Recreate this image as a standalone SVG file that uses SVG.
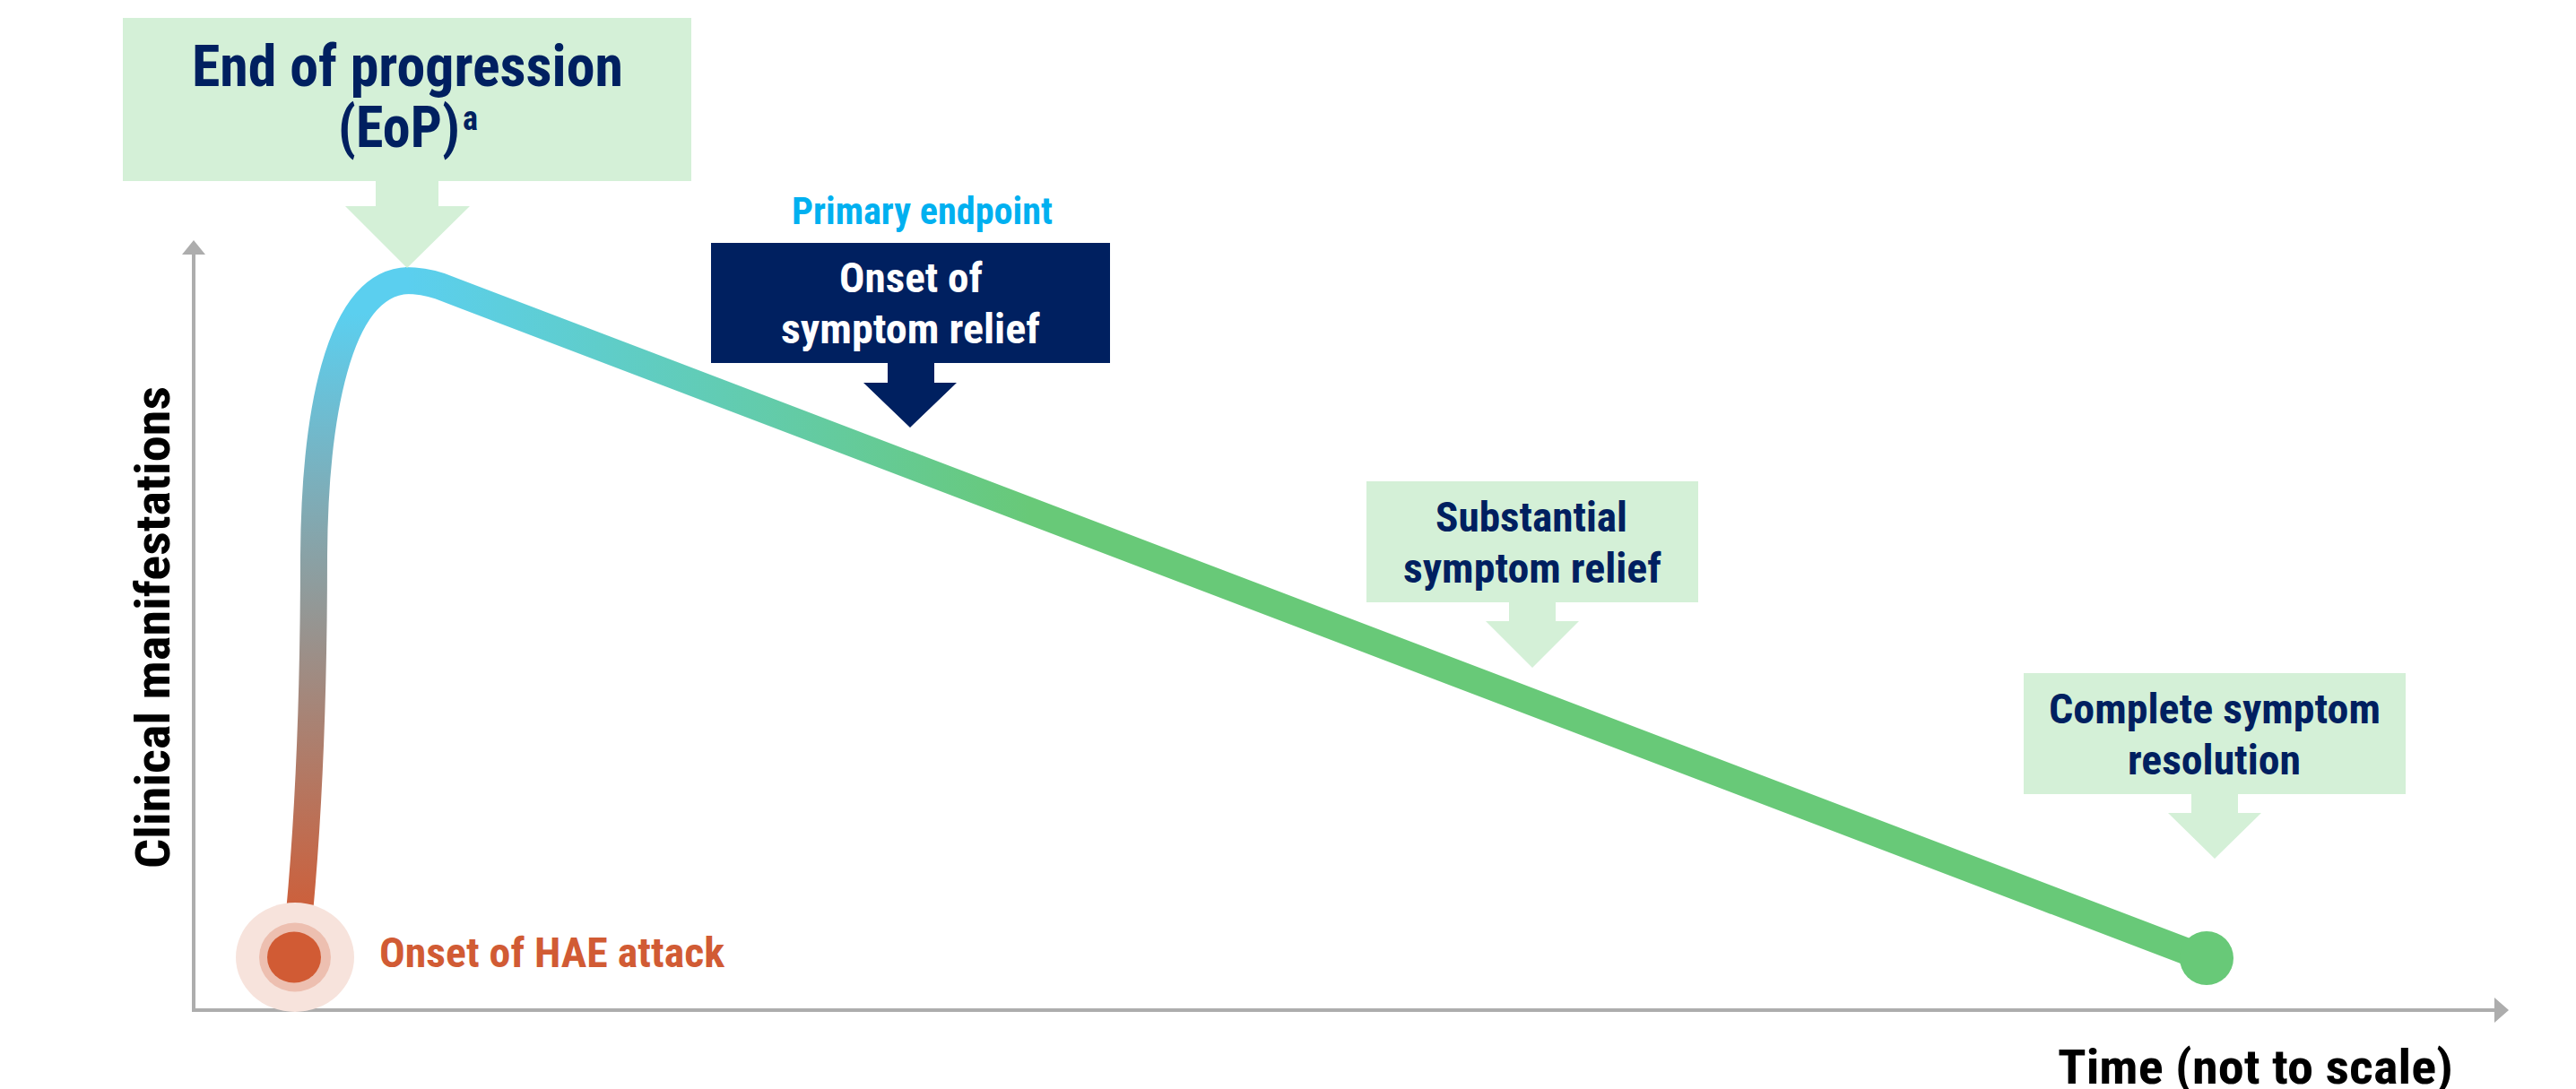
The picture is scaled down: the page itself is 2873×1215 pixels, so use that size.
<svg xmlns="http://www.w3.org/2000/svg" width="2873" height="1215" viewBox="0 0 2873 1215">
  <style>
    text { font-family: "Roboto Condensed", Roboto, "Liberation Sans", sans-serif; font-weight: 700; font-stretch: condensed; }
    .navy { fill: #002060; }
    .white { fill: #ffffff; }
    .callout-light { fill: #D4F0D7; }
    .callout-dark { fill: #002060; }
    .axis { stroke: #ADADAD; stroke-width: 4; fill: none; }
    .axis-head { fill: #ADADAD; }
    .axis-label { fill: #000000; font-size: 54px; }
    .box-text { font-size: 47px; }
  </style>
  <defs>
    <linearGradient id="riseGrad" gradientUnits="userSpaceOnUse" x1="0" y1="1040" x2="0" y2="350">
      <stop offset="0" stop-color="#D15B34"/>
      <stop offset="1" stop-color="#5BCFEF"/>
    </linearGradient>
    <linearGradient id="fallGrad" gradientUnits="userSpaceOnUse" x1="455" y1="0" x2="1150" y2="0">
      <stop offset="0" stop-color="#5BCFEF"/>
      <stop offset="1" stop-color="#68C978"/>
    </linearGradient>
  </defs>

  <!-- axes -->
  <g id="axes">
    <line class="axis" x1="216" y1="283" x2="216" y2="1127"/>
    <polygon class="axis-head" points="216,268 229,284 203,284"/>
    <line class="axis" x1="214" y1="1127" x2="2783" y2="1127"/>
    <polygon class="axis-head" points="2798,1127 2782,1113 2782,1141"/>
    <text class="axis-label" x="2295" y="1209" textLength="441" lengthAdjust="spacingAndGlyphs">Time (not to scale)</text>
    <text class="axis-label" transform="translate(189,700) rotate(-90)" x="-269" y="0" textLength="538" lengthAdjust="spacingAndGlyphs">Clinical manifestations</text>
  </g>

  <!-- attack course: rise to the peak, then gradual decline -->
  <g id="connectors">
    <path d="M 329,1068 C 342,950 350,800 350,620 C 351,470 375,316 455,313" fill="none" stroke="url(#riseGrad)" stroke-width="30"/>
    <path d="M 452,313 C 468,313 478,315 490,319 L 2440,1062" fill="none" stroke="url(#fallGrad)" stroke-width="30"/>
  </g>

  <!-- onset marker -->
  <g id="onset">
    <ellipse cx="329" cy="1068" rx="66" ry="61" fill="#F7E3DC"/>
    <ellipse cx="329" cy="1068" rx="40" ry="38.5" fill="#EDBFB0"/>
    <ellipse cx="328" cy="1068" rx="30" ry="28.5" fill="#D15B34"/>
    <text x="423" y="1079" font-size="47" fill="#D15B34" textLength="385" lengthAdjust="spacingAndGlyphs">Onset of HAE attack</text>
  </g>

  <!-- resolution marker -->
  <g id="end-point">
    <circle cx="2461" cy="1069" r="30" fill="#68C978"/>
  </g>

  <!-- End of progression callout -->
  <g id="eop">
    <path class="callout-light" d="M 137,20 H 771 V 202 H 489 V 230 H 524 L 454,299 L 385,230 H 419 V 202 H 137 Z"/>
    <text class="navy" x="214" y="96" font-size="65" textLength="481" lengthAdjust="spacingAndGlyphs">End of progression</text>
    <text class="navy" x="377" y="164" font-size="65" textLength="136" lengthAdjust="spacingAndGlyphs">(EoP)</text>
    <text class="navy" x="516" y="145" font-size="38" textLength="17" lengthAdjust="spacingAndGlyphs">a</text>
  </g>

  <!-- Onset of symptom relief callout (primary endpoint) -->
  <g id="onset-relief">
    <text x="883" y="250" font-size="42" fill="#00B0F0" textLength="291" lengthAdjust="spacingAndGlyphs">Primary endpoint</text>
    <path class="callout-dark" d="M 793,271 H 1238 V 405 H 1042 V 427 H 1067 L 1015,477 L 963,427 H 990 V 405 H 793 Z"/>
    <text class="white box-text" x="936" y="326" textLength="160" lengthAdjust="spacingAndGlyphs">Onset of</text>
    <text class="white box-text" x="871" y="383" textLength="289" lengthAdjust="spacingAndGlyphs">symptom relief</text>
  </g>

  <!-- Substantial symptom relief callout -->
  <g id="substantial-relief">
    <path class="callout-light" d="M 1524,537 H 1894 V 672 H 1735 V 693 H 1761 L 1709,745 L 1657,693 H 1683 V 672 H 1524 Z"/>
    <text class="navy box-text" x="1601" y="593" textLength="214" lengthAdjust="spacingAndGlyphs">Substantial</text>
    <text class="navy box-text" x="1565" y="650" textLength="288" lengthAdjust="spacingAndGlyphs">symptom relief</text>
  </g>

  <!-- Complete symptom resolution callout -->
  <g id="complete-resolution">
    <path class="callout-light" d="M 2257,751 H 2683 V 886 H 2496 V 907 H 2522 L 2470,958 L 2418,907 H 2444 V 886 H 2257 Z"/>
    <text class="navy box-text" x="2285" y="807" textLength="370" lengthAdjust="spacingAndGlyphs">Complete symptom</text>
    <text class="navy box-text" x="2373" y="864" textLength="193" lengthAdjust="spacingAndGlyphs">resolution</text>
  </g>
</svg>
